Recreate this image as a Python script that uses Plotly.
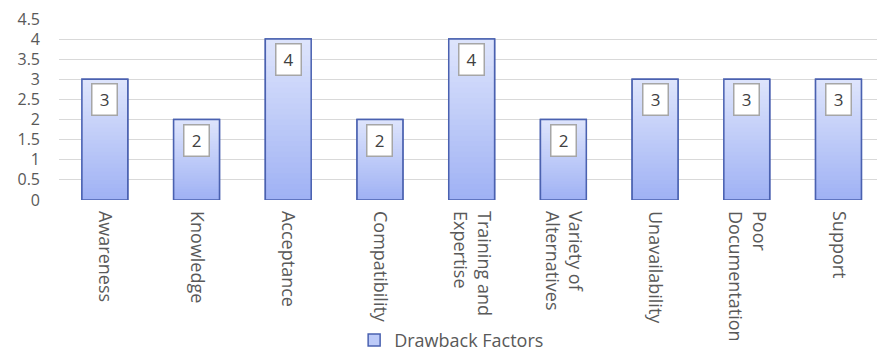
import plotly.graph_objects as go

categories = ["Awareness", "Knowledge", "Acceptance", "Compatibility",
              "Training and<br>Expertise", "Variety of<br>Alternatives",
              "Unavailability", "Poor<br>Documentation", "Support"]
values = [3, 2, 4, 2, 4, 2, 3, 3, 3]
series_name = "Drawback Factors"
y_ticks = [0, 0.5, 1, 1.5, 2, 2.5, 3, 3.5, 4, 4.5]

FONT = "Open Sans"
TXT = "#595959"
BORDER = "#4a61b0"
BOTTOM = (160, 178, 244)
TOP = (221, 228, 252)

fig = go.Figure()

# legend / base trace
fig.add_trace(go.Bar(
    x=categories, y=values, name=series_name, width=0.5,
    marker=dict(color="#bccaf8", line=dict(color=BORDER, width=1.5)),
    showlegend=True, hoverinfo="skip"))

# gradient fill (overlapping segments, bottom dark -> top light)
N = 30
for i in range(N):
    t = i / (N - 1)
    c = tuple(round(BOTTOM[k] + (TOP[k] - BOTTOM[k]) * t) for k in range(3))
    fig.add_trace(go.Bar(
        x=categories,
        base=[v * i / N for v in values],
        y=[v - v * i / N for v in values],
        width=0.5,
        marker=dict(color="rgb(%d,%d,%d)" % c, line=dict(width=0)),
        showlegend=False, hoverinfo="skip"))

# outline on top
fig.add_trace(go.Bar(
    x=categories, y=values, width=0.5,
    marker=dict(color="rgba(0,0,0,0)", line=dict(color=BORDER, width=1.5)),
    showlegend=False, hoverinfo="skip"))

for c, v in zip(categories, values):
    fig.add_annotation(
        x=c, y=v, xref="x", yref="y", yanchor="top", yshift=-4,
        text=str(v), showarrow=False, bgcolor="white",
        bordercolor="#a6a6a6", borderwidth=1.5, borderpad=1,
        width=22, height=28, font=dict(family=FONT, size=17, color="#404040"))

fig.update_layout(
    width=877, height=353, barmode="overlay",
    margin=dict(l=59, r=0, t=19, b=153, autoexpand=False),
    paper_bgcolor="white", plot_bgcolor="white",
    font=dict(family=FONT, size=17, color=TXT),
    xaxis=dict(range=[-0.5, 8.42], tickangle=90, showgrid=False,
               showline=False, zeroline=False, ticks="",
               automargin=False, ticklabelstandoff=10,
               tickfont=dict(family=FONT, size=18, color=TXT)),
    yaxis=dict(range=[0, 4.5], tickvals=y_ticks,
               ticktext=[("%g" % t) for t in y_ticks],
               showgrid=True, gridcolor="#d9d9d9", gridwidth=1,
               zeroline=False, showline=False, ticks="",
               automargin=False, ticklabelstandoff=18,
               tickfont=dict(family=FONT, size=16, color=TXT)),
    legend=dict(orientation="h", x=0.48, xanchor="center", y=-0.775,
                yanchor="middle", yref="paper",
                font=dict(family=FONT, size=18, color=TXT)),
)

fig.write_html("out.html")
